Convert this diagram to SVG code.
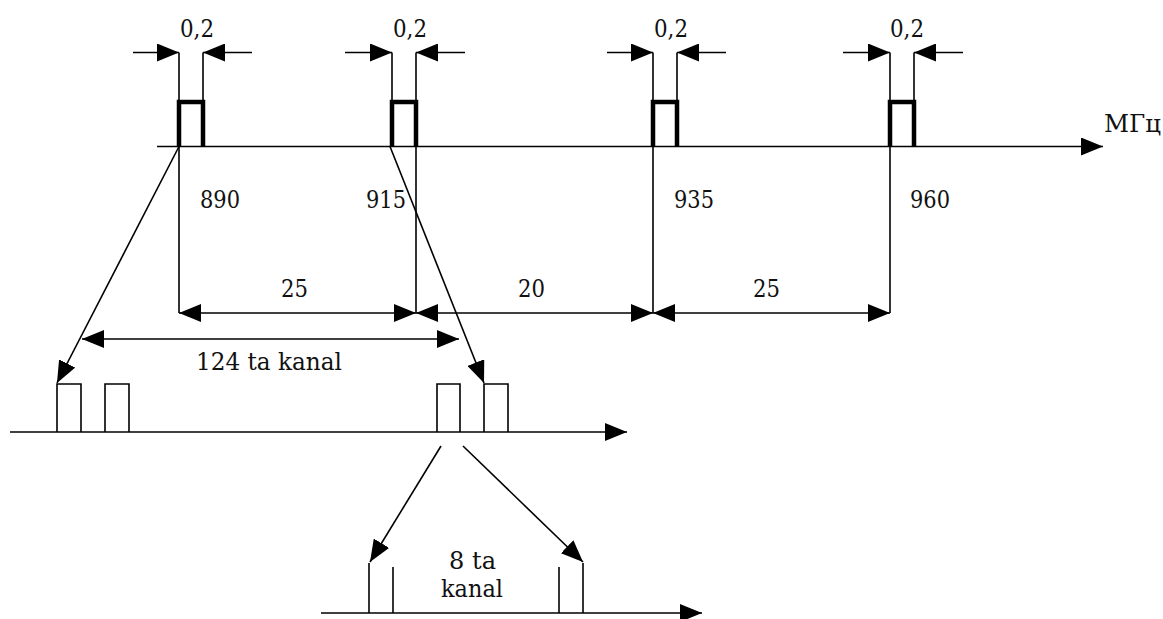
<svg xmlns="http://www.w3.org/2000/svg" width="1163" height="619" viewBox="0 0 1163 619">
<style>
.l{stroke:#000;stroke-width:1.6;fill:none}
.p{stroke:#000;stroke-width:4.5;fill:none;stroke-linejoin:miter}
.t{font-family:'DejaVu Serif',serif;font-size:25px;fill:#111}
</style>
<defs>
<marker id="ah" viewBox="0 0 22 18" refX="22" refY="9" markerWidth="22" markerHeight="18" markerUnits="userSpaceOnUse" orient="auto-start-reverse">
<path d="M0,0 L22,9 L0,18 z" fill="#000"/>
</marker>
</defs>
<rect width="1163" height="619" fill="#fff"/>

<g id="axis-main">
<line class="l" x1="157" y1="146.5" x2="1103" y2="146.5" marker-end="url(#ah)"/>
<text class="t" x="1104" y="132" textLength="57" lengthAdjust="spacingAndGlyphs">МГц</text>
</g>

<g id="pulse-890">
<line class="l" x1="179" y1="52.5" x2="179" y2="100"/>
<line class="l" x1="203" y1="52.5" x2="203" y2="100"/>
<path class="p" d="M179,146.5 V102 H203 V146.5"/>
<line class="l" x1="133" y1="52.5" x2="179" y2="52.5" marker-end="url(#ah)"/>
<line class="l" x1="252" y1="52.5" x2="203" y2="52.5" marker-end="url(#ah)"/>
<text class="t" x="180" y="37" textLength="34" lengthAdjust="spacingAndGlyphs">0,2</text>
<line class="l" x1="179" y1="146.5" x2="179" y2="313"/>
<text class="t" x="200" y="208" textLength="40" lengthAdjust="spacingAndGlyphs">890</text>
</g>

<g id="pulse-915">
<line class="l" x1="392" y1="52.5" x2="392" y2="100"/>
<line class="l" x1="416" y1="52.5" x2="416" y2="100"/>
<path class="p" d="M392,146.5 V102 H416 V146.5"/>
<line class="l" x1="345" y1="52.5" x2="392" y2="52.5" marker-end="url(#ah)"/>
<line class="l" x1="465" y1="52.5" x2="416" y2="52.5" marker-end="url(#ah)"/>
<text class="t" x="393" y="37" textLength="34" lengthAdjust="spacingAndGlyphs">0,2</text>
<line class="l" x1="416" y1="146.5" x2="416" y2="313"/>
<text class="t" x="366" y="208" textLength="40" lengthAdjust="spacingAndGlyphs">915</text>
</g>

<g id="pulse-935">
<line class="l" x1="653" y1="52.5" x2="653" y2="100"/>
<line class="l" x1="677" y1="52.5" x2="677" y2="100"/>
<path class="p" d="M653,146.5 V102 H677 V146.5"/>
<line class="l" x1="607" y1="52.5" x2="653" y2="52.5" marker-end="url(#ah)"/>
<line class="l" x1="726" y1="52.5" x2="677" y2="52.5" marker-end="url(#ah)"/>
<text class="t" x="654" y="37" textLength="34" lengthAdjust="spacingAndGlyphs">0,2</text>
<line class="l" x1="653" y1="146.5" x2="653" y2="313"/>
<text class="t" x="674" y="208" textLength="40" lengthAdjust="spacingAndGlyphs">935</text>
</g>

<g id="pulse-960">
<line class="l" x1="890" y1="52.5" x2="890" y2="100"/>
<line class="l" x1="914" y1="52.5" x2="914" y2="100"/>
<path class="p" d="M890,146.5 V102 H914 V146.5"/>
<line class="l" x1="843" y1="52.5" x2="890" y2="52.5" marker-end="url(#ah)"/>
<line class="l" x1="963" y1="52.5" x2="914" y2="52.5" marker-end="url(#ah)"/>
<text class="t" x="890" y="37" textLength="34" lengthAdjust="spacingAndGlyphs">0,2</text>
<line class="l" x1="890" y1="146.5" x2="890" y2="313"/>
<text class="t" x="910" y="208" textLength="40" lengthAdjust="spacingAndGlyphs">960</text>
</g>

<g id="dimensions">
<line class="l" x1="179" y1="313" x2="416" y2="313" marker-start="url(#ah)" marker-end="url(#ah)"/>
<text class="t" x="281" y="297" textLength="27" lengthAdjust="spacingAndGlyphs">25</text>
<line class="l" x1="416" y1="313" x2="653" y2="313" marker-start="url(#ah)" marker-end="url(#ah)"/>
<text class="t" x="518" y="297" textLength="27" lengthAdjust="spacingAndGlyphs">20</text>
<line class="l" x1="653" y1="313" x2="890" y2="313" marker-start="url(#ah)" marker-end="url(#ah)"/>
<text class="t" x="753" y="297" textLength="27" lengthAdjust="spacingAndGlyphs">25</text>
<line class="l" x1="82" y1="339" x2="459" y2="339" marker-start="url(#ah)" marker-end="url(#ah)"/>
<text class="t" x="196" y="370" textLength="146" lengthAdjust="spacingAndGlyphs">124 ta kanal</text>
</g>

<g id="axis-channels">
<line class="l" x1="10" y1="432" x2="627" y2="432" marker-end="url(#ah)"/>
<path class="l" d="M57,432 V384 H81 V432"/>
<path class="l" d="M105,432 V384 H129 V432"/>
<path class="l" d="M437,432 V384 H460 V432"/>
<path class="l" d="M484,432 V384 H508 V432"/>
</g>

<g id="axis-timeslots">
<line class="l" x1="321" y1="613" x2="702" y2="613" marker-end="url(#ah)"/>
<line class="l" x1="369" y1="563" x2="369" y2="613"/>
<line class="l" x1="393" y1="567" x2="393" y2="613"/>
<line class="l" x1="559" y1="567" x2="559" y2="613"/>
<line class="l" x1="583" y1="563" x2="583" y2="613"/>
<text class="t" x="449" y="569" textLength="47" lengthAdjust="spacingAndGlyphs">8 ta</text>
<text class="t" x="441" y="597" textLength="62" lengthAdjust="spacingAndGlyphs">kanal</text>
</g>

<g id="connectors">
<line class="l" x1="179" y1="146.5" x2="57" y2="383" marker-end="url(#ah)"/>
<line class="l" x1="390" y1="146.5" x2="484" y2="383" marker-end="url(#ah)"/>
<line class="l" x1="441" y1="446" x2="370" y2="562" marker-end="url(#ah)"/>
<line class="l" x1="463" y1="446" x2="583" y2="562" marker-end="url(#ah)"/>
</g>
</svg>
